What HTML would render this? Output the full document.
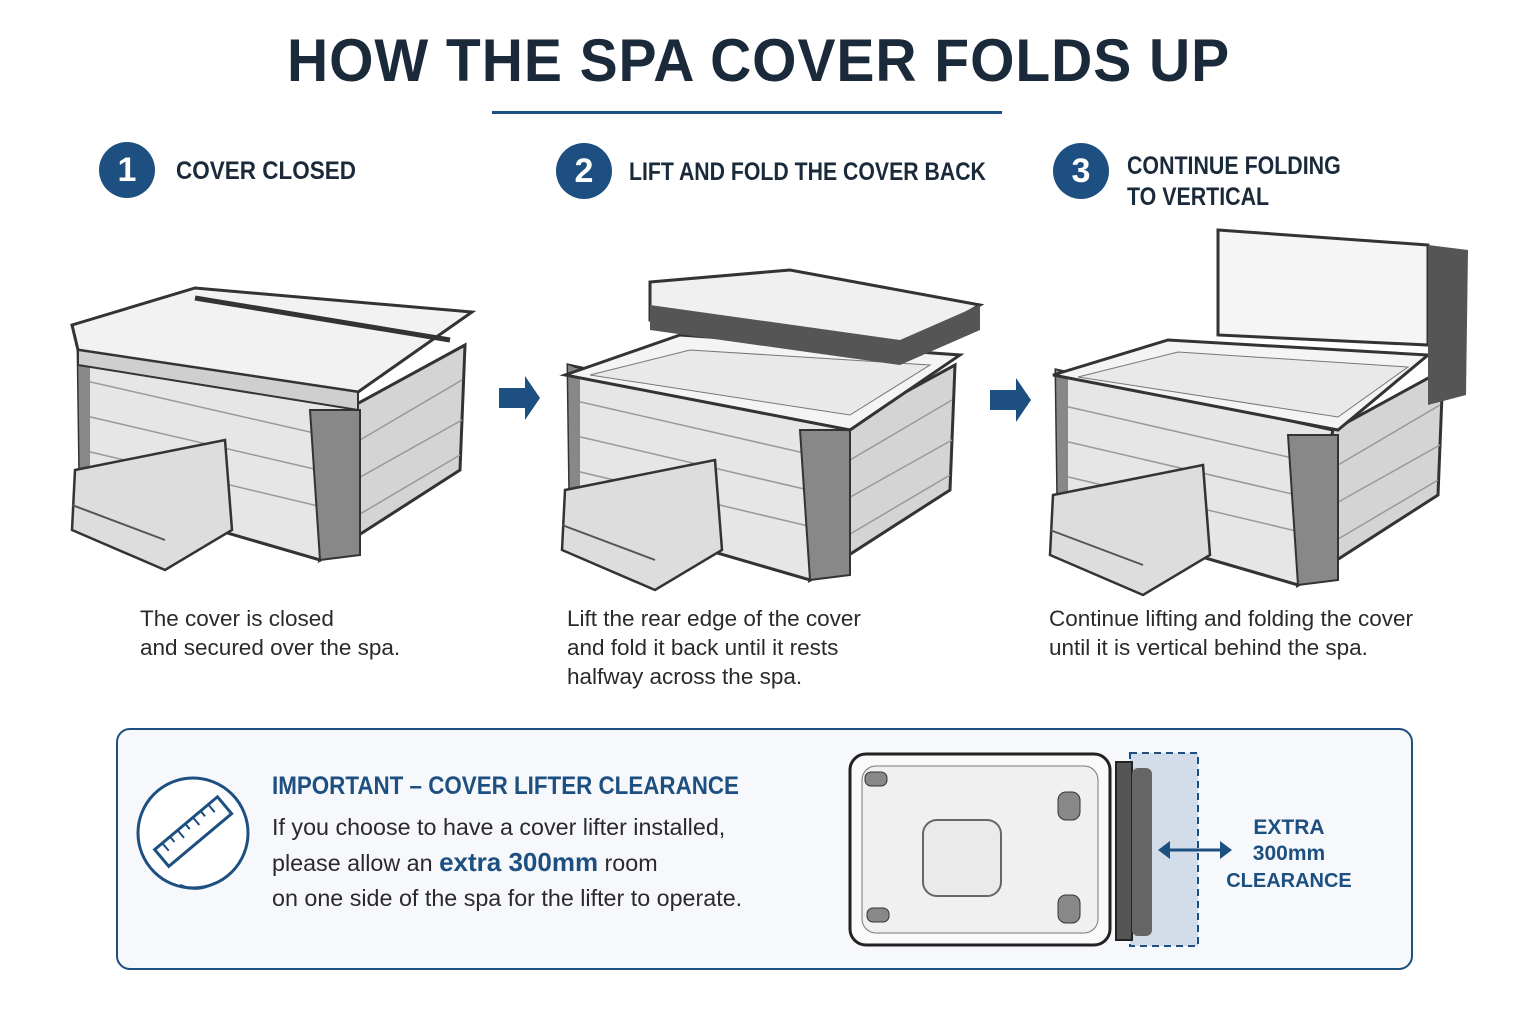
<!DOCTYPE html>
<html><head><meta charset="utf-8"><style>
body{margin:0;width:1536px;height:1024px;background:#fff;font-family:"Liberation Sans",sans-serif;position:relative;overflow:hidden}
.abs{position:absolute}
h1{position:absolute;left:287px;top:26px;margin:0;white-space:nowrap;font-size:60px;font-weight:bold;color:#1b2a3a;letter-spacing:1px;transform:scaleX(0.95);transform-origin:left top}
.num{position:absolute;width:56px;height:56px;border-radius:50%;background:#1d4f80;color:#fff;font-size:34px;font-weight:bold;text-align:center;line-height:56px}
.lab{position:absolute;font-size:25px;font-weight:bold;color:#1b2a3a;line-height:31px;white-space:nowrap;transform:scaleX(0.86);transform-origin:left top}
.cap{position:absolute;font-size:22.5px;color:#2a2a2a;line-height:29px;white-space:nowrap}
</style></head><body>
<h1>HOW THE SPA COVER FOLDS UP</h1>
<div class="abs" style="left:492px;top:111px;width:510px;height:3px;background:#1d4f80"></div>
<div class="num" style="left:99px;top:142px">1</div><div class="lab" style="left:176px;top:156px;transform:scaleX(0.9)">COVER CLOSED</div>
<div class="num" style="left:556px;top:143px">2</div><div class="lab" style="left:629px;top:157px;transform:scaleX(0.85)">LIFT AND FOLD THE COVER BACK</div>
<div class="num" style="left:1053px;top:143px">3</div><div class="lab" style="left:1127px;top:151px;transform:scaleX(0.855)">CONTINUE FOLDING<br>TO VERTICAL</div>

<svg class="abs" style="left:0;top:0" width="1536" height="720">
<defs>
<g id="tub">
<polygon points="78,345 355,405 320,560 80,490" fill="#e6e6e6" stroke="#333" stroke-width="3"/>
<polygon points="355,405 465,345 460,470 320,560" fill="#d4d4d4" stroke="#333" stroke-width="3"/>
<g stroke="#999" stroke-width="1.5"><line x1="82" y1="380" x2="345" y2="440"/><line x1="82" y1="415" x2="340" y2="475"/><line x1="82" y1="450" x2="335" y2="510"/><line x1="360" y1="440" x2="462" y2="380"/><line x1="355" y1="480" x2="462" y2="420"/><line x1="350" y1="520" x2="460" y2="455"/></g>
<polygon points="310,410 360,410 360,555 320,560" fill="#888" stroke="#333" stroke-width="2"/>
<polygon points="78,345 80,490 90,495 90,350" fill="#888"/>
<polygon points="75,470 225,440 232,530 165,570 72,530" fill="#ddd" stroke="#333" stroke-width="2.5"/>
<line x1="72" y1="505" x2="165" y2="540" stroke="#555" stroke-width="2"/>
</g>
</defs>
<use href="#tub"/>
<polygon points="72,325 195,288 472,312 358,392 78,350" fill="#f2f2f2" stroke="#333" stroke-width="3"/>
<polygon points="78,350 358,392 358,410 78,365" fill="#cfcfcf" stroke="#333" stroke-width="2"/>
<line x1="195" y1="298" x2="450" y2="340" stroke="#333" stroke-width="5"/>
<g transform="translate(490,20)"><use href="#tub"/>
<polygon points="75,355 190,315 470,335 360,410" fill="#f4f4f4" stroke="#333" stroke-width="3"/>
<polygon points="100,355 200,330 440,345 360,395" fill="#e9e9e9" stroke="#777"/>
<polygon points="160,262 300,250 490,285 410,330 160,300" fill="#f0f0f0" stroke="#333" stroke-width="3"/>
<polygon points="160,285 410,320 490,285 490,310 410,345 160,310" fill="#555"/></g>
<g transform="translate(978,25)"><use href="#tub"/>
<polygon points="75,350 190,315 450,330 360,405" fill="#f4f4f4" stroke="#333" stroke-width="3"/>
<polygon points="100,352 200,327 430,342 360,392" fill="#e9e9e9" stroke="#777"/>
<polygon points="240,205 450,220 450,320 240,310" fill="#f5f5f5" stroke="#333" stroke-width="3"/>
<polygon points="450,220 490,225 488,370 450,380" fill="#555"/></g>
<polygon points="499,388 525,388 525,376 540,398 525,420 525,408 499,408" fill="#1d4f80"/>
<polygon points="990,390 1016,390 1016,378 1031,400 1016,422 1016,410 990,410" fill="#1d4f80"/>
</svg>

<div class="cap" style="left:140px;top:604px">The cover is closed<br>and secured over the spa.</div>
<div class="cap" style="left:567px;top:604px">Lift the rear edge of the cover<br>and fold it back until it rests<br>halfway across the spa.</div>
<div class="cap" style="left:1049px;top:604px">Continue lifting and folding the cover<br>until it is vertical behind the spa.</div>

<div class="abs" style="left:116px;top:728px;width:1293px;height:238px;border:2px solid #1d4f80;border-radius:14px;background:#f6f8fb"></div>
<svg class="abs" style="left:135px;top:775px" width="118" height="130">
<circle cx="58" cy="58" r="55" fill="#fff" stroke="#1d4f80" stroke-width="3"/>
<g transform="rotate(-40 58 58)"><rect x="18" y="46" width="82" height="22" fill="none" stroke="#1d4f80" stroke-width="3"/>
<g stroke="#1d4f80" stroke-width="2"><line x1="28" y1="46" x2="28" y2="56"/><line x1="38" y1="46" x2="38" y2="53"/><line x1="48" y1="46" x2="48" y2="56"/><line x1="58" y1="46" x2="58" y2="53"/><line x1="68" y1="46" x2="68" y2="56"/><line x1="78" y1="46" x2="78" y2="53"/><line x1="88" y1="46" x2="88" y2="56"/></g></g>
<path d="M45 110 Q62 118 80 108" fill="none" stroke="#1d4f80" stroke-width="2.5"/>
</svg>
<div class="abs" style="left:272px;top:772px;font-size:25px;font-weight:bold;color:#1d4f80;white-space:nowrap;transform:scaleX(0.895);transform-origin:left top">IMPORTANT – COVER LIFTER CLEARANCE</div>
<div class="cap" style="left:272px;top:810px;font-size:23.3px;line-height:35px">If you choose to have a cover lifter installed,<br>please allow an <b style="color:#1d4f80;font-size:26px">extra 300mm</b> room<br>on one side of the spa for the lifter to operate.</div>

<svg class="abs" style="left:840px;top:740px" width="520" height="220">
<rect x="290" y="13" width="68" height="193" fill="#d3dde9" stroke="#1d4f80" stroke-width="2" stroke-dasharray="7,5"/>
<rect x="10" y="14" width="260" height="191" rx="16" fill="#fafafa" stroke="#222" stroke-width="3"/>
<rect x="22" y="26" width="236" height="167" rx="14" fill="#f0f0f0" stroke="#777"/>
<rect x="83" y="80" width="78" height="76" rx="14" fill="#eaeaea" stroke="#666" stroke-width="2"/>
<g fill="#888" stroke="#333"><rect x="25" y="32" width="22" height="14" rx="6"/><rect x="218" y="52" width="22" height="28" rx="8"/><rect x="218" y="155" width="22" height="28" rx="8"/><rect x="27" y="168" width="22" height="14" rx="6"/></g>
<rect x="276" y="22" width="16" height="178" fill="#555" stroke="#222" stroke-width="2"/>
<rect x="292" y="28" width="20" height="168" rx="6" fill="#666"/>
<line x1="322" y1="110" x2="388" y2="110" stroke="#1d4f80" stroke-width="3"/>
<polygon points="318,110 330,101 330,119" fill="#1d4f80"/><polygon points="392,110 380,101 380,119" fill="#1d4f80"/>
<text x="449" y="94" font-size="21" font-weight="bold" fill="#1d4f80" text-anchor="middle" font-family="Liberation Sans">EXTRA</text>
<text x="449" y="120" font-size="21" font-weight="bold" fill="#1d4f80" text-anchor="middle" font-family="Liberation Sans">300mm</text>
<text x="449" y="147" font-size="20" font-weight="bold" fill="#1d4f80" text-anchor="middle" font-family="Liberation Sans">CLEARANCE</text>
</svg>
</body></html>
